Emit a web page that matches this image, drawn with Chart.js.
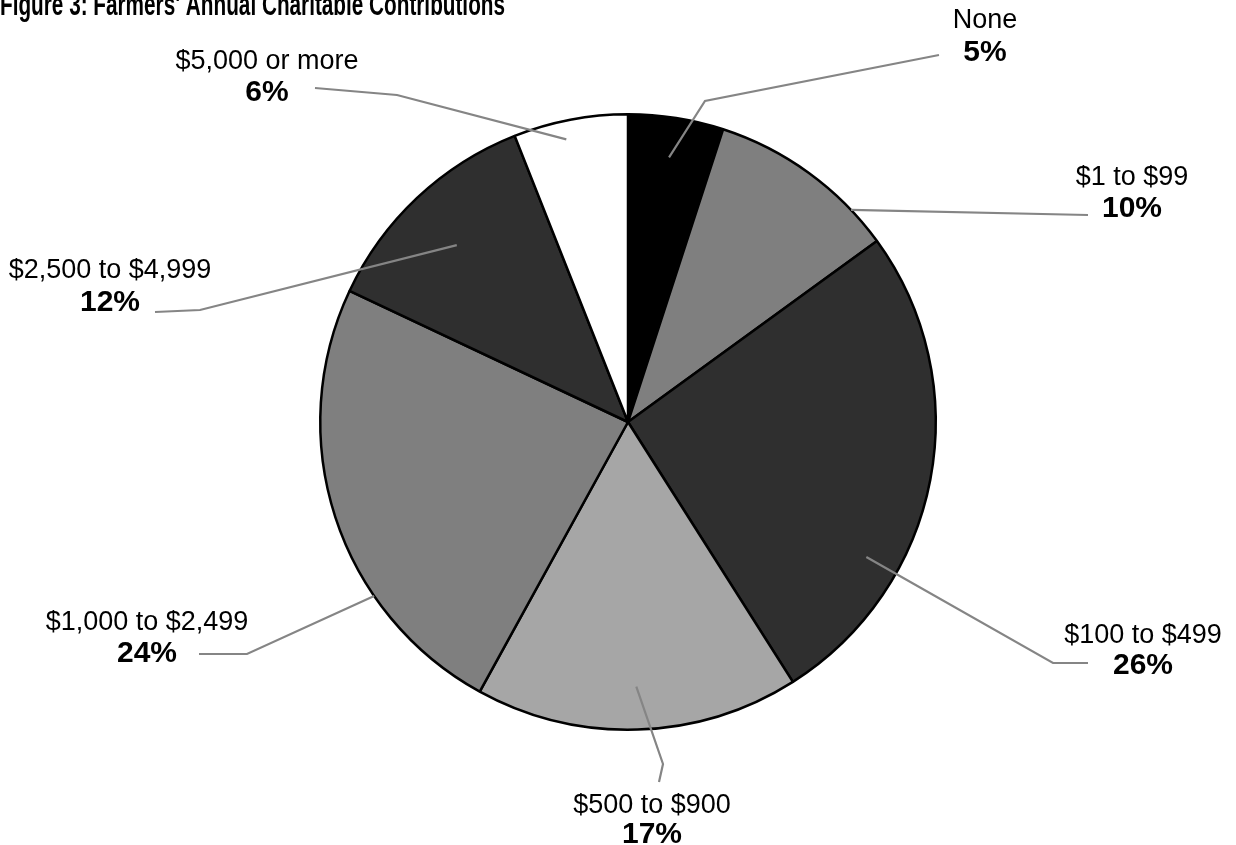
<!DOCTYPE html>
<html>
<head>
<meta charset="utf-8">
<script src="https://cdn.jsdelivr.net/npm/chart.js@4"></script>
<style>
  html, body { margin: 0; padding: 0; background: #fff; }
  #wrap { width: 1236px; height: 845px; }
</style>
</head>
<body>
<div id="wrap"><canvas id="giftsPie" width="1236" height="845"></canvas></div>
<script>
const categories = ['None', '$1 to $99', '$100 to $499', '$500 to $900', '$1,000 to $2,499', '$2,500 to $4,999', '$5,000 or more'];
const shares = [5, 10, 26, 17, 24, 12, 6];
const sliceColors = ['#000000', '#7f7f7f', '#2f2f2f', '#a6a6a6', '#7f7f7f', '#2f2f2f', '#ffffff'];
const chartTitle = "Figure 3: Farmers' Annual Charitable Contributions";

// callouts: t = how far along the slice the leader starts, f = share of the radius,
// elbow / end / text are pixel offsets from the pie centre (text = [x, name baseline, pct baseline])
const callouts = [
  { t: 0.49, f: 0.87, elbow: [77, -321],  end: [311, -367],  text: [357, -394, -361] },
  { t: 0.79, f: 1.00, elbow: null,        end: [460, -207],  text: [504, -237, -205] },
  { t: 0.70, f: 0.89, elbow: [425, 241],  end: [460, 241],   text: [515, 221, 252] },
  { t: 0.50, f: 0.86, elbow: [35, 342],   end: [31, 360],    text: [24, 391, 421] },
  { t: 0.31, f: 1.00, elbow: [-381, 232], end: [-429, 232],  text: [-481, 208, 240] },
  { t: 0.48, f: 0.80, elbow: [-428, -112], end: [-473, -110], text: [-518, -144, -111] },
  { t: 0.43, f: 0.94, elbow: [-231, -327], end: [-313, -334], text: [-361, -353, -321] }
];

const calloutPlugin = {
  id: 'callouts',
  afterDatasetsDraw(chart) {
    const ctx = chart.ctx;
    const arcs = chart.getDatasetMeta(0).data;
    ctx.save();
    arcs.forEach((arc, i) => {
      const c = callouts[i];
      const p = arc.getProps(['x', 'y', 'startAngle', 'endAngle', 'outerRadius'], true);
      const a = p.startAngle + c.t * (p.endAngle - p.startAngle);
      const r = p.outerRadius * c.f;

      ctx.beginPath();
      ctx.moveTo(p.x + Math.cos(a) * r, p.y + Math.sin(a) * r);
      if (c.elbow) ctx.lineTo(p.x + c.elbow[0], p.y + c.elbow[1]);
      ctx.lineTo(p.x + c.end[0], p.y + c.end[1]);
      ctx.strokeStyle = '#858585';
      ctx.lineWidth = 2.2;
      ctx.stroke();

      ctx.fillStyle = '#000';
      ctx.textAlign = 'center';
      ctx.textBaseline = 'alphabetic';
      ctx.font = '27px "Liberation Sans"';
      ctx.fillText(chart.data.labels[i], p.x + c.text[0], p.y + c.text[1]);
      ctx.font = 'bold 30px "Liberation Sans"';
      ctx.fillText(shares[i] + '%', p.x + c.text[0], p.y + c.text[2]);
    });

    // title sits half off the top edge, squeezed like a narrow face
    ctx.font = 'bold 31px "Liberation Sans"';
    ctx.textAlign = 'left';
    const w = ctx.measureText(chartTitle).width;
    ctx.translate(0, 15);
    ctx.scale(505 / w, 1);
    ctx.fillText(chartTitle, 0, 0);
    ctx.restore();
  }
};

new Chart(document.getElementById('giftsPie'), {
  type: 'pie',
  data: {
    labels: categories,
    datasets: [{
      data: shares,
      backgroundColor: sliceColors,
      borderColor: '#000000',
      borderWidth: 2.5,
      offset: 0,
      hoverOffset: 0
    }]
  },
  options: {
    responsive: false,
    animation: false,
    layout: {
      padding: { top: 113, bottom: 114, left: 200, right: 180 }
    },
    plugins: {
      legend: { display: false },
      tooltip: { enabled: false },
      title: { display: false }
    }
  },
  plugins: [calloutPlugin]
});
</script>
</body>
</html>
